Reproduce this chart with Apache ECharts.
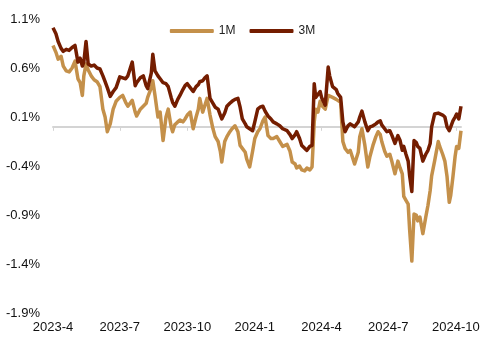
<!DOCTYPE html>
<html>
<head>
<meta charset="utf-8">
<script src="https://cdn.jsdelivr.net/npm/echarts@6/dist/echarts.min.js"></script>
<style>html,body{margin:0;padding:0;background:#fff;}#chart{width:485px;height:340px;}</style>
</head>
<body>
<div id="chart"></div>
<script>
var dates = ['2023-04-01','2023-04-05','2023-04-08','2023-04-12','2023-04-15','2023-04-19','2023-04-23','2023-04-27','2023-05-01','2023-05-05',
'2023-05-08','2023-05-11','2023-05-13','2023-05-16','2023-05-19','2023-05-23','2023-05-27','2023-05-31','2023-06-04','2023-06-08',
'2023-06-11','2023-06-14','2023-06-18','2023-06-22','2023-06-26','2023-07-01','2023-07-05','2023-07-09','2023-07-12','2023-07-18',
'2023-07-22','2023-07-24','2023-07-29','2023-08-02','2023-08-06','2023-08-08','2023-08-13','2023-08-15','2023-08-18','2023-08-22',
'2023-08-25','2023-08-29','2023-09-02','2023-09-05','2023-09-09','2023-09-11','2023-09-14','2023-09-18','2023-09-21','2023-09-25',
'2023-09-28','2023-10-01','2023-10-05','2023-10-09','2023-10-13','2023-10-16','2023-10-18','2023-10-22','2023-10-25','2023-10-28',
'2023-11-01','2023-11-05','2023-11-08','2023-11-12','2023-11-15','2023-11-17','2023-11-21','2023-11-24','2023-11-28','2023-12-01',
'2023-12-05','2023-12-09','2023-12-12','2023-12-15','2023-12-19','2023-12-21','2023-12-25','2023-12-29','2024-01-01','2024-01-05',
'2024-01-08','2024-01-12','2024-01-15','2024-01-19','2024-01-23','2024-01-26','2024-01-31','2024-02-04','2024-02-08','2024-02-14',
'2024-02-18','2024-02-21','2024-02-25','2024-02-27','2024-03-02','2024-03-05','2024-03-09','2024-03-12','2024-03-16','2024-03-19',
'2024-03-22','2024-03-24','2024-03-27','2024-03-30','2024-04-01','2024-04-06','2024-04-10','2024-04-12','2024-04-16','2024-04-21',
'2024-04-23','2024-04-27','2024-04-30','2024-05-03','2024-05-07','2024-05-10','2024-05-12','2024-05-16','2024-05-21','2024-05-23',
'2024-05-26','2024-05-30','2024-06-03','2024-06-06','2024-06-10','2024-06-14','2024-06-17','2024-06-20','2024-06-22','2024-06-26',
'2024-06-29','2024-07-03','2024-07-06','2024-07-10','2024-07-14','2024-07-17','2024-07-20','2024-07-22','2024-07-25','2024-07-28',
'2024-07-30','2024-08-02','2024-08-05','2024-08-08','2024-08-10','2024-08-13','2024-08-17','2024-08-21','2024-08-24','2024-08-27',
'2024-08-29','2024-09-02','2024-09-07','2024-09-09','2024-09-13','2024-09-16','2024-09-19','2024-09-22','2024-09-24','2024-09-27',
'2024-09-30','2024-10-02','2024-10-05','2024-10-08'];

var m3 = [1.01,0.95,0.87,0.80,0.77,0.79,0.78,0.81,0.83,0.66,
0.70,0.62,0.66,0.87,0.64,0.62,0.63,0.60,0.59,0.52,
0.46,0.40,0.31,0.36,0.40,0.51,0.50,0.49,0.52,0.66,
0.42,0.45,0.50,0.52,0.42,0.39,0.55,0.74,0.57,0.52,
0.49,0.45,0.44,0.41,0.30,0.25,0.21,0.28,0.32,0.38,
0.42,0.44,0.40,0.36,0.41,0.43,0.46,0.47,0.50,0.52,
0.29,0.24,0.20,0.18,0.12,0.08,0.14,0.21,0.24,0.26,
0.28,0.29,0.20,0.08,0.03,0.00,-0.02,-0.04,0.05,0.18,
0.20,0.21,0.16,0.11,0.08,0.05,0.03,0.01,-0.02,-0.04,
-0.08,-0.12,-0.08,-0.05,-0.12,-0.19,-0.22,-0.24,-0.20,-0.19,
0.44,0.30,0.33,0.36,0.30,0.22,0.61,0.52,0.41,0.38,
0.34,0.30,0.05,-0.05,0.01,0.03,0.03,0.00,0.05,0.10,
0.16,0.05,-0.04,0.00,0.01,0.03,0.05,0.06,0.02,-0.02,
-0.05,-0.04,-0.09,-0.17,-0.09,-0.14,-0.24,-0.20,-0.28,-0.35,
-0.50,-0.66,-0.14,-0.16,-0.20,-0.22,-0.35,-0.28,-0.24,-0.17,
0.00,0.13,0.14,0.16,0.12,0.10,0.00,-0.04,0.00,0.06,
0.10,0.13,0.08,0.21];

var m1 = [0.83,0.76,0.69,0.72,0.62,0.57,0.56,0.60,0.67,0.49,
0.45,0.32,0.52,0.64,0.58,0.52,0.48,0.46,0.41,0.18,
0.10,-0.05,0.03,0.18,0.26,0.30,0.32,0.25,0.21,0.27,
0.15,0.11,0.18,0.21,0.24,0.30,0.40,0.47,0.32,0.10,
0.15,-0.14,0.10,0.18,0.00,-0.05,0.02,0.05,0.07,0.05,
0.08,0.12,0.15,-0.02,0.10,0.18,0.29,0.15,0.22,0.29,
0.12,-0.02,-0.10,-0.15,-0.25,-0.36,-0.15,-0.10,-0.05,-0.02,
0.01,-0.05,-0.19,-0.22,-0.26,-0.33,-0.41,-0.25,-0.12,-0.05,
-0.02,0.06,0.10,-0.09,-0.12,-0.12,-0.10,-0.15,-0.20,-0.18,
-0.25,-0.36,-0.38,-0.42,-0.40,-0.44,-0.45,-0.42,-0.44,-0.41,
0.05,0.18,0.15,0.26,0.22,0.18,0.32,0.32,0.30,0.28,
0.27,0.25,-0.15,-0.22,-0.26,-0.24,-0.25,-0.38,-0.26,-0.10,
-0.02,-0.19,-0.41,-0.30,-0.19,-0.10,-0.05,-0.08,-0.15,-0.25,
-0.30,-0.28,-0.36,-0.48,-0.35,-0.42,-0.48,-0.71,-0.75,-0.79,
-1.05,-1.37,-0.89,-0.90,-0.96,-0.92,-1.09,-0.92,-0.80,-0.65,
-0.50,-0.35,-0.15,-0.20,-0.28,-0.35,-0.51,-0.77,-0.70,-0.51,
-0.30,-0.20,-0.22,-0.04];

var seriesNames = ['1M', '3M'];
var colors = ['#C4904A', '#741D00'];
var yMin = -1.9, yMax = 1.1, yStep = 0.5;

// full calendar-day category axis
var days = [];
(function () {
  var d = new Date(Date.UTC(2023, 3, 1));
  var end = dates[dates.length - 1];
  while (true) {
    var s = d.toISOString().slice(0, 10);
    days.push(s);
    if (s === end) break;
    d.setUTCDate(d.getUTCDate() + 1);
  }
})();

function isQuarterStart(idx, val) {
  return /-(01|04|07|10)-01$/.test(val);
}

function pairs(arr) {
  return arr.map(function (v, i) { return [dates[i], v]; });
}

var chart = echarts.init(document.getElementById('chart'), null, {renderer: 'canvas'});
chart.setOption({
  animation: false,
  color: colors,
  textStyle: {fontFamily: 'Liberation Sans, Arial, sans-serif'},
  legend: {
    top: 20,
    left: 'center',
    itemWidth: 44,
    itemHeight: 4,
    itemGap: 14,
    icon: 'roundRect',
    textStyle: {fontSize: 12, color: '#222', fontFamily: 'Liberation Sans Narrow, Liberation Sans, Arial'},
    data: seriesNames
  },
  grid: {left: 53, right: 24, top: 19, bottom: 27, containLabel: false},
  xAxis: [{
    type: 'category',
    data: days,
    position: 'bottom',
    boundaryGap: false,
    axisLine: {show: false, onZero: false},
    axisTick: {show: false},
    axisLabel: {
      interval: isQuarterStart,
      margin: 8,
      fontSize: 13,
      color: '#111',
      formatter: function (v) {
        var p = v.split('-');
        return p[0] + '-' + parseInt(p[1], 10);
      }
    },
    splitLine: {show: false}
  }, {
    type: 'category',
    data: days,
    position: 'top',
    boundaryGap: false,
    axisLine: {show: true, onZero: true, lineStyle: {color: '#D4D4D4', width: 2}},
    axisTick: {show: true, inside: true, length: 4, interval: isQuarterStart, lineStyle: {color: '#D4D4D4', width: 1}},
    axisLabel: {show: false},
    splitLine: {show: false}
  }],
  yAxis: {
    type: 'value',
    min: yMin,
    max: yMax,
    interval: yStep,
    axisLine: {show: false},
    axisTick: {show: false},
    splitLine: {show: false},
    axisLabel: {
      margin: 13,
      fontSize: 13,
      color: '#111',
      formatter: function (v) { return v.toFixed(1) + '%'; }
    }
  },
  series: [{
    name: seriesNames[0],
    type: 'line',
    xAxisIndex: 0,
    data: pairs(m1),
    showSymbol: false,
    symbol: 'none',
    lineStyle: {width: 3.5, color: colors[0], join: 'round'},
    itemStyle: {color: colors[0]}
  }, {
    name: seriesNames[1],
    type: 'line',
    xAxisIndex: 0,
    data: pairs(m3),
    showSymbol: false,
    symbol: 'none',
    lineStyle: {width: 3.5, color: colors[1], join: 'round'},
    itemStyle: {color: colors[1]}
  }]
});
</script>
</body>
</html>
